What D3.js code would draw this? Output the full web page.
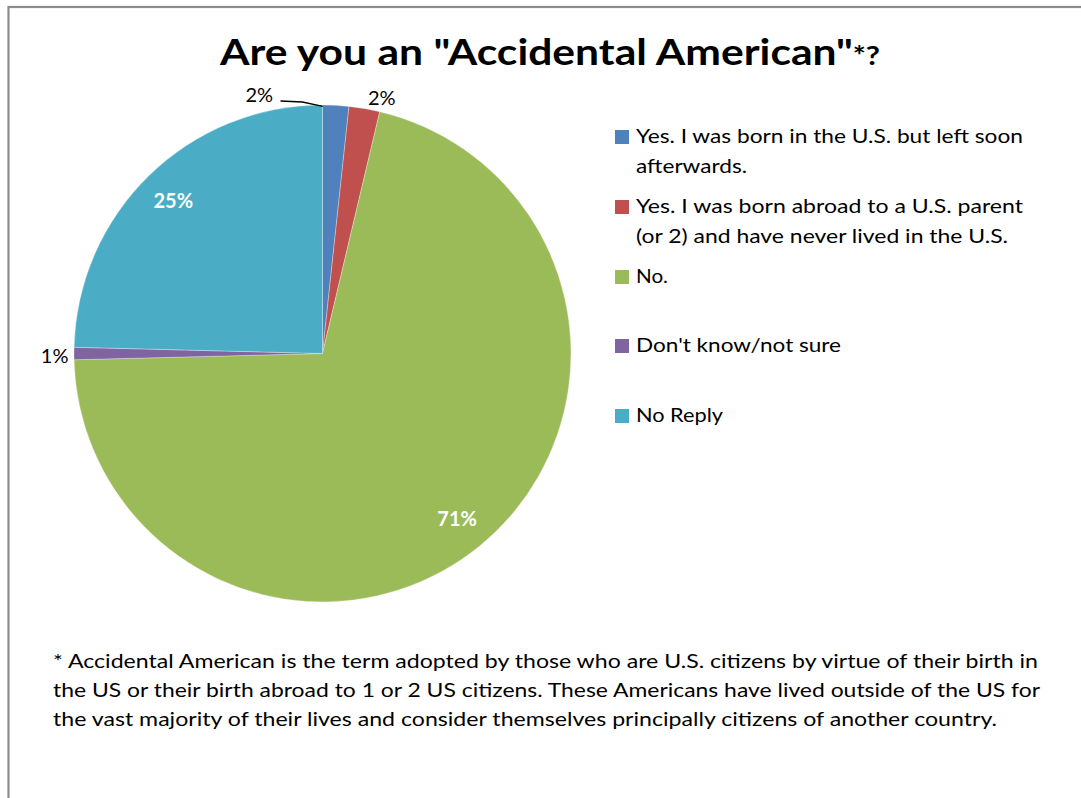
<!DOCTYPE html>
<html>
<head>
<meta charset="utf-8">
<script src="https://cdn.jsdelivr.net/npm/d3@7"></script>
<style>
  html, body { margin: 0; padding: 0; background: #fff; }
  svg { display: block; }
  text { font-family: Lato, "Open Sans", "Liberation Sans", sans-serif; }
</style>
</head>
<body>
<svg id="chart" width="1081" height="798"></svg>
<script>
// ---- data ----
const categories = [
  "Yes. I was born in the U.S.  but left soon afterwards.",
  "Yes. I was born abroad to a U.S. parent (or 2) and have never lived in the U.S.",
  "No.",
  "Don't know/not sure",
  "No Reply"
];
const legendLines = [
  ["Yes. I was born in the U.S.  but left soon", "afterwards."],
  ["Yes. I was born abroad to a U.S.  parent", "(or 2) and have never lived in the U.S."],
  ["No."],
  ["Don't know/not sure"],
  ["No Reply"]
];
const values = [1.7, 2.0, 70.9, 0.8, 24.6];
const valueLabels = ["2%", "2%", "71%", "1%", "25%"];
const colors = ["#4f81bd", "#c0504d", "#9bbb59", "#8064a2", "#4bacc6"];
const title = "Are you an \"Accidental American\"";
const titleSuffix = "*?";
const footnote = [
  "* Accidental American is the term adopted by those  who are U.S.  citizens by virtue of their birth in",
  "the US or their birth  abroad to 1 or 2 US citizens.  These Americans have lived outside of the US for",
  "the vast majority  of their lives and consider themselves principally citizens of another  country."
];

// ---- drawing ----
const svg = d3.select("#chart");

// frame
svg.append("rect")
  .attr("x", 8.5).attr("y", 7)
  .attr("width", 1200).attr("height", 900)
  .attr("fill", "#fff")
  .attr("stroke", "#8c8c8c").attr("stroke-width", 2.2);

function fitText(sel, width) {
  sel.attr("textLength", width).attr("lengthAdjust", "spacingAndGlyphs");
}

// title
const t = svg.append("text")
  .attr("x", 220).attr("y", 65)
  .attr("font-size", 36).attr("font-weight", "bold").attr("fill", "#000");
t.append("tspan").text(title);
t.append("tspan").attr("font-size", 26).text(titleSuffix);
fitText(t, 660);

// pie
const cx = 322.5, cy = 353.5, r = 248.5;
const pie = d3.pie().sort(null).value(d => d);
const arcs = pie(values);
const arc = d3.arc().innerRadius(0).outerRadius(r);
const g = svg.append("g").attr("transform", `translate(${cx},${cy})`);
g.selectAll("path.slice").data(arcs).enter().append("path")
  .attr("class", "slice")
  .attr("d", arc)
  .attr("fill", (d, i) => colors[i])
  .attr("stroke", "#ffffff").attr("stroke-opacity", 0.5).attr("stroke-width", 0.6);

// inside labels (bold white) for large slices
const inArc = d3.arc().innerRadius(r * 0.86).outerRadius(r * 0.86);
const labelArc = d3.arc().innerRadius(r * 1.08).outerRadius(r * 1.08);

arcs.forEach((d, i) => {
  if (values[i] > 10) {
    const [x, y] = inArc.centroid(d);
    g.append("text")
      .attr("x", x).attr("y", y + 7)
      .attr("text-anchor", "middle")
      .attr("font-size", 20).attr("font-weight", "bold")
      .attr("fill", "#fff")
      .text(valueLabels[i]);
  }
});

// outside labels
// blue slice label (left of top, with leader line)
{
  const d = arcs[0];
  const mid = (d.startAngle + d.endAngle) / 2;
  const px = r * Math.sin(mid), py = -r * Math.cos(mid);
  g.append("polyline")
    .attr("points", [[px - 13, py + 1], [-20, -251.5], [-42, -252.5]].map(p => p.join(",")).join(" "))
    .attr("fill", "none").attr("stroke", "#000").attr("stroke-width", 1.3);
  g.append("text")
    .attr("x", -77).attr("y", -251.5)
    .attr("font-size", 20).attr("fill", "#000")
    .text(valueLabels[0]);
}
// red slice label
{
  const d = arcs[1];
  const [x, y] = labelArc.centroid(d);
  g.append("text")
    .attr("x", x + 14).attr("y", -248.5)
    .attr("font-size", 20).attr("fill", "#000")
    .attr("text-anchor", "middle")
    .text(valueLabels[1]);
}
// purple slice label
{
  const d = arcs[3];
  const [x, y] = labelArc.centroid(d);
  g.append("text")
    .attr("x", -254).attr("y", y + 9)
    .attr("font-size", 20).attr("fill", "#000")
    .attr("text-anchor", "end")
    .text(valueLabels[3]);
}

// legend
const legendY = [143, 213, 283, 352, 422];
const legendW = [[387, 111], [387, 372], [32], [205], [87]];
const lg = svg.append("g");
categories.forEach((c, i) => {
  lg.append("rect")
    .attr("x", 615).attr("y", legendY[i] - 13)
    .attr("width", 14).attr("height", 14)
    .attr("fill", colors[i]);
  legendLines[i].forEach((line, j) => {
    const tx = lg.append("text")
      .attr("x", 636).attr("y", legendY[i] + j * 30)
      .attr("font-size", 20).attr("fill", "#000")
      .text(line);
    fitText(tx, legendW[i][j]);
  });
});

// footnote
const footW = [985, 987, 944];
footnote.forEach((line, i) => {
  const tx = svg.append("text")
    .attr("x", 53).attr("y", 668 + i * 29)
    .attr("font-size", 20).attr("fill", "#000")
    .text(line);
  fitText(tx, footW[i]);
});
</script>
</body>
</html>
